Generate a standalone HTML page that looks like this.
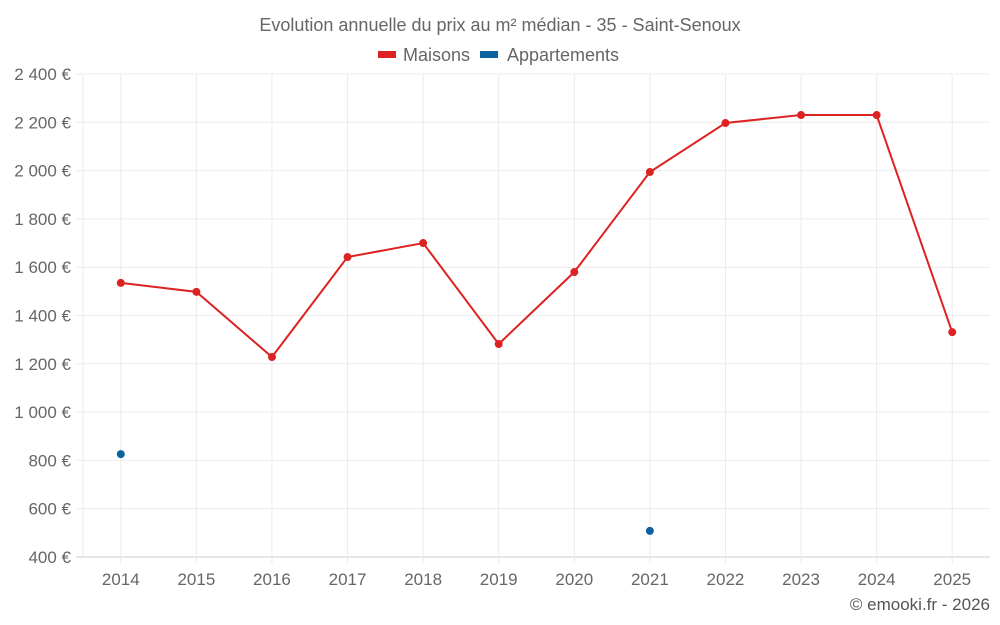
<!DOCTYPE html>
<html><head><meta charset="utf-8"><style>
body{margin:0;background:#fff;font-family:"Liberation Sans",sans-serif;}
svg{display:block}
</style></head><body>
<svg id="chart" width="1000" height="625">
<text x="500" y="31" text-anchor="middle" font-size="18" fill="#666">Evolution annuelle du prix au m² médian - 35 - Saint-Senoux</text>
<g><rect x="378" y="51" width="18" height="7" fill="#dd2222"/><text x="403" y="61" font-size="18" fill="#666">Maisons</text></g>
<g><rect x="480" y="51" width="18" height="7" fill="#0b62a0"/><text x="507" y="61" font-size="18" fill="#666">Appartements</text></g>
<g id="grid"></g><g id="marks"></g>
<text x="990" y="610" text-anchor="end" font-size="17" fill="#555">© emooki.fr - 2026</text>
</svg>
<script>
const categories=["2014","2015","2016","2017","2018","2019","2020","2021","2022","2023","2024","2025"];
const maisons=[1535,1498,1228,1642,1700,1282,1580,1994,2197,2230,2230,1331];
const appartements=[826,null,null,null,null,null,null,508,null,null,null,null];
const yTicks=[400,600,800,1000,1200,1400,1600,1800,2000,2200,2400];
const NS="http://www.w3.org/2000/svg";
const x0=83,x1=990,yTop=74,yBot=557;
const bw=(x1-x0)/categories.length;
const xs=i=>x0+bw*(i+0.5);
const ys=v=>yBot-(v-400)/2000*(yBot-yTop);
function mk(t,a,p){const e=document.createElementNS(NS,t);for(const k in a)e.setAttribute(k,a[k]);p.appendChild(e);return e;}
const g=document.getElementById('grid'),m=document.getElementById('marks');
yTicks.forEach(v=>{
 const l=mk('line',{x1:76,x2:x1,y1:ys(v),y2:ys(v),stroke:v===400?'#ccc':'#ebebeb'},g);
 
 
 const t=mk('text',{x:71,y:ys(v)+6,'text-anchor':'end','font-size':17,fill:'#666'},g);
 t.textContent=v.toLocaleString('fr-FR').replace(/\s/g,' ')+' €';
 
 
});
mk('line',{x1:x0,x2:x0,y1:yTop,y2:yBot,stroke:'#ebebeb'},g);
categories.forEach((c,i)=>{
 const l=mk('line',{x1:xs(i),x2:xs(i),y1:yTop,y2:yBot+7,stroke:'#ebebeb'},g);
 
 
 const t=mk('text',{x:xs(i),y:585,'text-anchor':'middle','font-size':17,fill:'#666'},g);
 t.textContent=c;
 
 
});
const pts=maisons.map((v,i)=>xs(i)+','+ys(v)).join(' ');
const pl=mk('polyline',{points:pts,fill:'none',stroke:'#dd2222','stroke-width':2},m);


maisons.forEach((v,i)=>{
 const c=mk('circle',{cx:xs(i),cy:ys(v),r:4,fill:'#dd2222'},m);
 
 
});
appartements.forEach((v,i)=>{
 if(v==null)return;
 const c=mk('circle',{cx:xs(i),cy:ys(v),r:4,fill:'#0b62a0'},m);
 
 
});
</script>
</body></html>
